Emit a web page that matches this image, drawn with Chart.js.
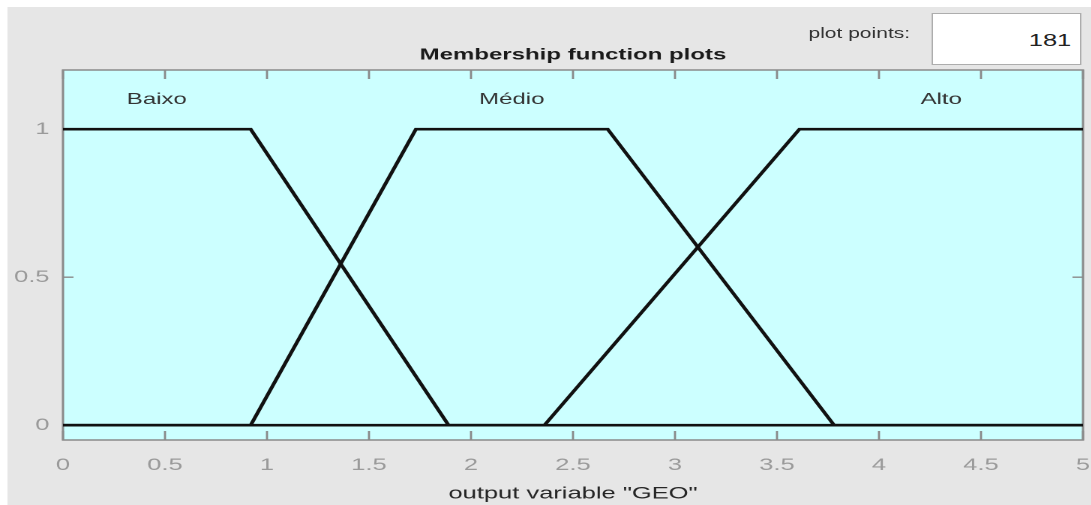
<!DOCTYPE html>
<html>
<head>
<meta charset="utf-8">
<script src="https://cdn.jsdelivr.net/npm/chart.js@4.4.0/dist/chart.umd.min.js"></script>
<style>
  html, body { margin: 0; padding: 0; background: #fff; overflow: hidden; }
  /* the reference screenshot is stretched sideways, so the whole figure is drawn narrow and widened */
  #stage { position: absolute; left: 0; top: 0; width: 728px; height: 505px;
           transform: scaleX(1.5); transform-origin: 0 0;
           font-family: "Liberation Sans", Arial, sans-serif; }
  #panel { position: absolute; left: 4.7px; top: 7px; right: 0; bottom: 0; background: #e6e6e6; }
  #mf-chart { position: absolute; left: 0; top: 0; }
  #pp-label { position: absolute; left: 539px; top: 25px; font-size: 14px; color: #333; }
  #pp-box { position: absolute; left: 620.7px; top: 13px; width: 100.5px; height: 52px; box-sizing: border-box;
            border: 1px solid #adadad; background: #fff; text-align: right; padding-right: 6px;
            font-size: 17px; line-height: 54px; color: #222; }
</style>
</head>
<body>
<div id="stage">
  <div id="panel"></div>
  <canvas id="mf-chart" width="728" height="505"></canvas>
  <div id="pp-label">plot points:</div>
  <div id="pp-box">181</div>
</div>
<script>
// membership functions of output variable GEO (breakpoints)
const mfNames = ['Baixo', 'Médio', 'Alto'];
const baixoX = [0, 0.92, 1.89, 5];
const baixoY = [1, 1, 0, 0];
const medioX = [0, 0.92, 1.73, 2.67, 3.78, 5];
const medioY = [0, 0, 1, 1, 0, 0];
const altoX = [0, 2.36, 3.61, 5];
const altoY = [0, 0, 1, 1];
const yTicks = [0, 0.5, 1];

const toPoints = (xs, ys) => xs.map((x, i) => ({ x: x, y: ys[i] }));

// name sits over the middle of each plateau
const plateauMid = (xs, ys) => {
    const top = xs.filter((x, i) => ys[i] === 1);
    return (top[0] + top[top.length - 1]) / 2;
};

const mfSets = [[baixoX, baixoY], [medioX, medioY], [altoX, altoY]];

Chart.defaults.font.family = '"Liberation Sans", Arial, sans-serif';

const matlabAxes = {
    id: 'matlabAxes',
    beforeDraw(chart) {
        const { ctx, chartArea: a } = chart;
        ctx.save();
        ctx.fillStyle = '#ccffff';
        ctx.fillRect(a.left, a.top, a.right - a.left, a.bottom - a.top);
        ctx.restore();
    },
    beforeDatasetsDraw(chart) {
        const { ctx, chartArea: a, scales } = chart;
        ctx.save();
        ctx.strokeStyle = '#8a8a8a';
        ctx.lineWidth = 1.4;
        ctx.beginPath();
        scales.x.ticks.forEach(t => {
            const px = scales.x.getPixelForValue(t.value);
            ctx.moveTo(px, a.bottom); ctx.lineTo(px, a.bottom - 9);
            ctx.moveTo(px, a.top); ctx.lineTo(px, a.top + 9);
        });
        scales.y.ticks.forEach(t => {
            const py = scales.y.getPixelForValue(t.value);
            ctx.moveTo(a.left, py); ctx.lineTo(a.left + 7, py);
            ctx.moveTo(a.right, py); ctx.lineTo(a.right - 7, py);
        });
        ctx.stroke();
        ctx.lineWidth = 1.5;
        ctx.strokeRect(a.left, a.top, a.right - a.left, a.bottom - a.top);

        ctx.fillStyle = '#1a1a1a';
        ctx.font = 'bold 16px "Liberation Sans", Arial, sans-serif';
        ctx.textAlign = 'center';
        ctx.textBaseline = 'middle';
        ctx.fillText('Membership function plots', (a.left + a.right) / 2, 55);

        ctx.fillStyle = '#333';
        ctx.font = '16px "Liberation Sans", Arial, sans-serif';
        mfSets.forEach((s, i) => {
            ctx.fillText(mfNames[i], scales.x.getPixelForValue(plateauMid(s[0], s[1])), scales.y.getPixelForValue(1.1));
        });
        ctx.restore();
    }
};

(() => {
    let ctx = document.getElementById('mf-chart').getContext('2d');

    new Chart(ctx, {
        type: 'scatter',
        data: {
            datasets: mfSets.map((s, i) => ({
                label: mfNames[i],
                data: toPoints(s[0], s[1]),
                showLine: true,
                borderColor: '#111',
                borderWidth: 2.6,
                pointRadius: 0,
                fill: false,
                lineTension: 0
            }))
        },
        options: {
            responsive: false,
            devicePixelRatio: 2,
            animation: false,
            layout: { padding: { left: 0, right: 6, top: 70, bottom: 0 } },
            plugins: { legend: { display: false }, tooltip: { enabled: false }, title: { display: false } },
            scales: {
                x: {
                    type: 'linear', min: 0, max: 5,
                    grid: { display: false, drawTicks: false },
                    border: { display: false },
                    ticks: { stepSize: 0.5, color: '#9a9a9a', font: { size: 17 }, padding: 15, maxRotation: 0, autoSkip: false,
                             callback: v => String(v) },
                    title: { display: true, text: 'output variable "GEO"', color: '#262626', font: { size: 17 }, padding: { top: 0, bottom: 1 } },
                    afterFit(s) { s.height = 65; s.paddingLeft = 0; s.paddingRight = 0; }
                },
                y: {
                    min: -0.05, max: 1.2,
                    afterBuildTicks(s) { s.ticks = yTicks.map(v => ({ value: v })); },
                    grid: { display: false, drawTicks: false },
                    border: { display: false },
                    ticks: { color: '#9a9a9a', font: { size: 17 }, padding: 9, callback: v => String(v) },
                    afterFit(s) { s.width = 42; s.paddingTop = 0; s.paddingBottom = 0; }
                }
            }
        },
        plugins: [matlabAxes]
    });
})();
</script>
</body>
</html>
